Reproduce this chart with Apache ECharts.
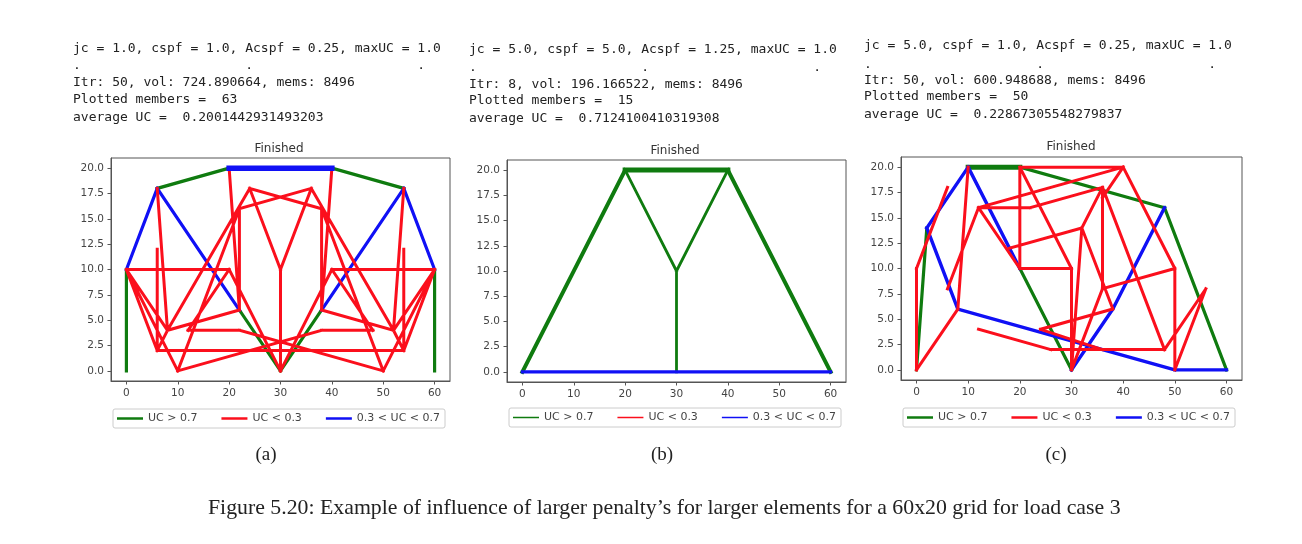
<!DOCTYPE html>
<html>
<head>
<meta charset="utf-8">
<style>
  html, body { margin: 0; padding: 0; background: #fff; }
  #chart { width: 1302px; height: 544px; }
</style>
</head>
<body>
<div id="chart"></div>
<script src="https://cdn.jsdelivr.net/npm/echarts@6/dist/echarts.min.js"></script>
<script>
// axis ticks, same for the three plots
const xTicks = [0, 10, 20, 30, 40, 50, 60];
const yTicks = [0, 2.5, 5, 7.5, 10, 12.5, 15, 17.5, 20];
const legendNames = ['UC > 0.7', 'UC < 0.3', '0.3 < UC < 0.7'];

// members as [x1, y1, x2, y2]
const aGreen = [[0,0,0,10],[6,18,20,20],[40,20,54,18],[60,0,60,10],[22,6,30,0],[30,0,38,6]];
const aBlue = [[0,10,6,18],[6,18,22,6],[54,18,38,6],[54,18,60,10]];
const aBlueHeavy = [[20,20,40,20]];
const aRed = [
  [20,20,22,6],[40,20,38,6],[6,18,8,4],[54,18,52,4],[6,12,6,2],[54,12,54,2],
  [0,10,20,10],[40,10,60,10],[20,10,12,4],[40,10,48,4],[20,10,30,0],[40,10,30,0],
  [12,4,22,4],[38,4,48,4],[22,4,50,0],[38,4,10,0],[10,0,22,16],[50,0,38,16],
  [8,4,24,18],[52,4,36,18],[8,4,22,6],[52,4,38,6],[22,16,22,6],[38,16,38,6],
  [22,16,36,18],[24,18,38,16],[24,18,30,10],[36,18,30,10],[30,10,30,0],
  [0,10,6,2],[0,10,8,4],[0,10,10,0],[60,10,54,2],[60,10,52,4],[60,10,50,0],
  [6,2,54,2],[6,2,8,4],[54,2,52,4]
];

const bGreenHeavy = [[20,20,40,20]];
const bGreen = [[0,0,20,20],[40,20,60,0]];
const bGreenThin = [[20,20,30,10],[40,20,30,10],[30,10,30,0]];
const bBlue = [[0,0,60,0]];
const bRed = [];

const cGreenHeavy = [[10,20,20,20]];
const cGreen = [[20,20,48,16],[48,16,60,0],[0,0,2,14],[20,10,30,0]];
const cBlue = [[2,14,10,20],[2,14,8,6],[8,6,50,0],[50,0,60,0],[10,20,20,10],[30,0,38,6],[38,6,48,16]];
const cRed = [
  [0,0,0,10],[0,10,6,18],[0,0,8,6],[6,8,12,16],[8,6,10,20],[12,16,40,20],
  [12,16,22,16],[22,16,36,18],[12,16,20,10],[20,20,40,20],[20,20,20,10],
  [20,10,30,10],[20,20,30,10],[30,10,30,0],[18,12,32,14],[32,14,36,18],
  [32,14,30,0],[32,14,38,6],[36,18,36,8],[36,8,50,10],[36,8,30,0],[36,18,48,2],
  [40,20,50,10],[40,20,36,17],[50,10,50,0],[50,0,56,8],[48,2,56,8],
  [24,4,38,6],[24,4,36,2],[12,4,26,2],[26,2,48,2]
];

// notebook output above each plot
const aHeader = ['jc = 1.0, cspf = 1.0, Acspf = 0.25, maxUC = 1.0',
  '.                     .                     .',
  'Itr: 50, vol: 724.890664, mems: 8496', 'Plotted members =  63', 'average UC =  0.2001442931493203'];
const bHeader = ['jc = 5.0, cspf = 5.0, Acspf = 1.25, maxUC = 1.0',
  '.                     .                     .',
  'Itr: 8, vol: 196.166522, mems: 8496', 'Plotted members =  15', 'average UC =  0.7124100410319308'];
const cHeader = ['jc = 5.0, cspf = 1.0, Acspf = 0.25, maxUC = 1.0',
  '.                     .                     .',
  'Itr: 50, vol: 600.948688, mems: 8496', 'Plotted members =  50', 'average UC =  0.22867305548279837'];
const caption = 'Figure 5.20: Example of influence of larger penalty\u2019s for larger elements for a 60x20 grid for load case 3';

const GREEN = '#0f7b0f', RED = '#fb0f1c', BLUE = '#1010f5';
const TXT = '#444';

// plot boxes in page pixels
const panels = [
  { left: 111, right: 450, top: 158, bottom: 381, legend: [113, 409], legendWidth: 2.5,
    titleX: 279, titleY: 149,
    sub: '(a)', subX: 266, header: aHeader, headerX: 73, headerY: [48.5, 65.5, 82.5, 99.5, 117.5] },
  { left: 507, right: 846, top: 160, bottom: 382, legend: [509, 408], legendWidth: 1.5,
    titleX: 675, titleY: 151,
    sub: '(b)', subX: 662, header: bHeader, headerX: 469, headerY: [49.5, 67.5, 84.5, 100.5, 118.5] },
  { left: 901, right: 1242, top: 157, bottom: 380, legend: [903, 408], legendWidth: 2.5,
    titleX: 1071, titleY: 147,
    sub: '(c)', subX: 1056, header: cHeader, headerX: 864, headerY: [45.5, 64.5, 80.5, 96.5, 114.5] }
];

function toLine(list) {
  const out = [];
  list.forEach(s => {
    out.push([s[0], s[1]], [s[2], s[3]], ['-', '-']);
  });
  return out;
}

function member(panel, name, color, list, width) {
  return {
    type: 'line', name: name, xAxisIndex: panel, yAxisIndex: panel,
    data: toLine(list), showSymbol: false, symbol: 'none', silent: true,
    connectNulls: false, animation: false,
    itemStyle: { color: color },
    lineStyle: { color: color, width: width, cap: 'square', join: 'miter' }
  };
}

const series = [
  member(0, legendNames[0], GREEN, aGreen, 3.2),
  member(0, legendNames[2], BLUE, aBlue, 3.2),
  member(0, legendNames[1], RED, aRed, 3),
  member(0, legendNames[2], BLUE, aBlueHeavy, 5.5),
  member(1, legendNames[0], GREEN, bGreenHeavy, 5),
  member(1, legendNames[0], GREEN, bGreen, 4),
  member(1, legendNames[0], GREEN, bGreenThin, 2.8),
  member(1, legendNames[1], RED, bRed, 2),
  member(1, legendNames[2], BLUE, bBlue, 3.2),
  member(2, legendNames[0], GREEN, cGreenHeavy, 5),
  member(2, legendNames[0], GREEN, cGreen, 3.2),
  member(2, legendNames[2], BLUE, cBlue, 3.4),
  member(2, legendNames[1], RED, cRed, 3)
];

const monoFont = '"DejaVu Sans Mono", monospace';
const graphics = [];
panels.forEach(p => {
  p.header.forEach((line, i) => {
    graphics.push({ type: 'text', x: p.headerX, y: p.headerY[i],
      style: { text: line, font: '13px ' + monoFont, fill: '#222', textVerticalAlign: 'middle' } });
  });
  graphics.push({ type: 'text', x: p.titleX, y: p.titleY,
    style: { text: 'Finished', font: '12px "DejaVu Sans"', fill: '#333', textAlign: 'center', textVerticalAlign: 'middle' } });
  graphics.push({ type: 'text', x: p.subX, y: 455,
    style: { text: p.sub, font: '19px "Liberation Serif", serif', fill: '#222', textAlign: 'center', textVerticalAlign: 'middle' } });
});
graphics.push({ type: 'text', x: 208, y: 508,
  style: { text: caption, font: '21.8px "Liberation Serif", serif', fill: '#222', textVerticalAlign: 'middle' } });

const option = {
  backgroundColor: '#fff',
  animation: false,
  grid: panels.map(p => ({
    left: p.left, top: p.top, width: p.right - p.left, height: p.bottom - p.top,
    show: true, borderColor: '#555', borderWidth: 1, backgroundColor: '#fff'
  })),
  xAxis: panels.map((p, i) => ({
    type: 'value', gridIndex: i, min: -3, max: 63,
    splitLine: { show: false },
    axisLine: { show: true, onZero: false, lineStyle: { color: '#555' } },
    axisTick: { show: true, length: 3.5, customValues: xTicks, lineStyle: { color: '#555' } },
    axisLabel: { customValues: xTicks, margin: 7, fontFamily: 'DejaVu Sans', fontSize: 10.5, color: TXT }
  })),
  yAxis: panels.map((p, i) => ({
    type: 'value', gridIndex: i, min: -1, max: 21,
    splitLine: { show: false },
    axisLine: { show: true, onZero: false, lineStyle: { color: '#555' } },
    axisTick: { show: true, length: 3.5, customValues: yTicks, lineStyle: { color: '#555' } },
    axisLabel: { customValues: yTicks, margin: 7, fontFamily: 'DejaVu Sans', fontSize: 10.5, color: TXT,
      formatter: v => v.toFixed(1) }
  })),
  legend: panels.map(p => ({
    data: legendNames, left: p.legend[0], top: p.legend[1], orient: 'horizontal',
    selectedMode: false, icon: 'rect', itemWidth: 26, itemHeight: p.legendWidth, itemGap: 24,
    padding: [4, 5, 4, 4], borderColor: '#ccc', borderWidth: 1, borderRadius: 2,
    textStyle: { fontFamily: 'DejaVu Sans', fontSize: 11, color: TXT }
  })),
  graphic: graphics,
  series: series
};

const chart = echarts.init(document.getElementById('chart'), null, { renderer: 'canvas' });
chart.setOption(option);
</script>
</body>
</html>
